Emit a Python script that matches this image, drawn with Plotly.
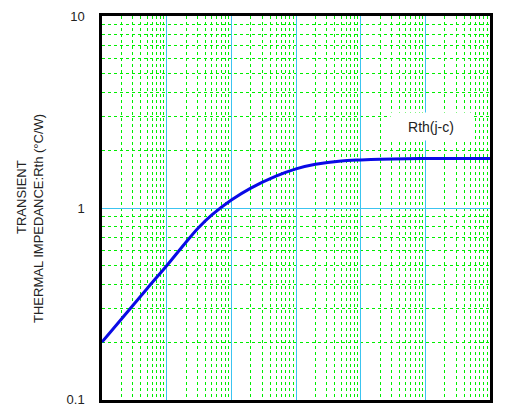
import plotly.graph_objects as go

# time (s) and transient thermal impedance (°C/W)
t_vals = [1e-4, 2e-4, 5e-4, 1e-3, 2e-3, 3e-3, 5e-3, 1e-2, 2e-2, 5e-2, 0.1, 0.2, 0.5, 1, 2, 5, 10, 100]
zth_vals = [0.2, 0.264, 0.381, 0.50, 0.665, 0.78, 0.92, 1.10, 1.27, 1.47, 1.60, 1.69, 1.76, 1.78, 1.795, 1.805, 1.81, 1.81]
y_ticks = [0.1, 1, 10]
y_tick_text = ["0.1", "1", "10"]
curve_label = "Rth(j-c)"
title_line1 = "TRANSIENT"
title_line2 = "THERMAL IMPEDANCE:Rth (°C/W)"

fig = go.Figure()
fig.add_trace(go.Scatter(
    x=t_vals, y=zth_vals, mode="lines",
    line=dict(color="#0a0ae6", width=3, shape="spline", smoothing=0.8),
    showlegend=False, hoverinfo="skip",
))

grid_major = "#3cc4f0"
grid_minor = "#00ee00"

fig.update_layout(
    width=510, height=406,
    margin=dict(l=102, r=20, t=16, b=6, autoexpand=False),
    paper_bgcolor="white", plot_bgcolor="white",
    font=dict(family="Liberation Sans, Arial, sans-serif", size=13, color="#222222"),
    xaxis=dict(
        type="log", range=[-4, 2], dtick=1,
        showticklabels=False, ticks="",
        showgrid=True, gridcolor=grid_major, gridwidth=1,
        minor=dict(dtick="D1", showgrid=True, gridcolor=grid_minor, griddash="dot", gridwidth=1, ticks=""),
        showline=True, linecolor="black", linewidth=2.5, mirror=True,
        zeroline=False,
    ),
    yaxis=dict(
        type="log", range=[-1.0005, 1.0005],
        tickvals=y_ticks, ticktext=y_tick_text, ticks="",
        ticklabelstandoff=12, ticklabeloverflow="allow",
        tickfont=dict(size=13, color="#222222"),
        showgrid=True, gridcolor=grid_major, gridwidth=1,
        minor=dict(dtick="D1", showgrid=True, gridcolor=grid_minor, griddash="dot", gridwidth=1, ticks=""),
        showline=True, linecolor="black", linewidth=2.5, mirror=True,
        zeroline=False,
    ),
    annotations=[
        dict(text=curve_label, xref="paper", yref="paper",
             x=(431 - 102) / 388, y=(400 - 126.5) / 384,
             xanchor="center", yanchor="middle", showarrow=False,
             bgcolor="white", width=78, height=25,
             font=dict(size=14, color="#222222")),
        dict(text=title_line1, xref="paper", yref="paper",
             x=(21 - 102) / 388, y=(400 - 197) / 384,
             xanchor="center", yanchor="middle", showarrow=False, textangle=-90,
             font=dict(size=13, color="#222222")),
        dict(text=title_line2, xref="paper", yref="paper",
             x=(39 - 102) / 388, y=(400 - 219) / 384,
             xanchor="center", yanchor="middle", showarrow=False, textangle=-90,
             font=dict(size=13, color="#222222")),
    ],
)

fig.write_html("out.html", config={"displayModeBar": False},
               post_script="document.body.style.margin='0';document.body.style.overflow='hidden';")
